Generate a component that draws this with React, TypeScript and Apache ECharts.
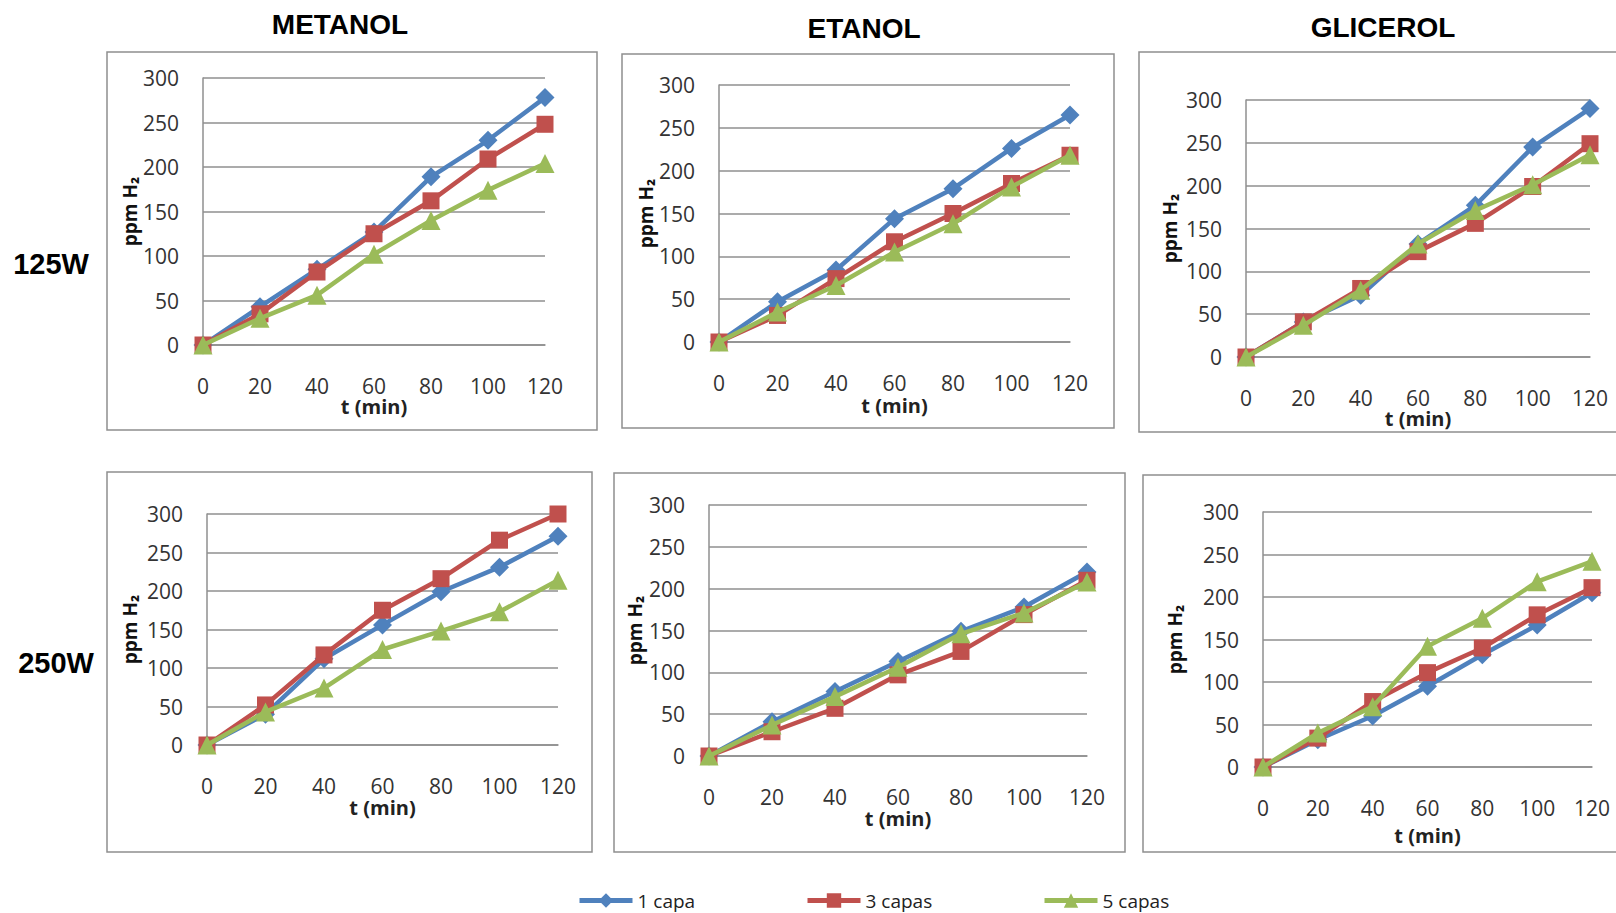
import React, { useEffect, useRef } from "react";
import * as echarts from "echarts";

const times = ["0", "20", "40", "60", "80", "100", "120"];
const seriesNames = ["1 capa", "3 capas", "5 capas"];
const colTitles = ["METANOL", "ETANOL", "GLICEROL"];
const rowTitles = ["125W", "250W"];
const yTicks = { min: 0, max: 300, interval: 50 };

// METANOL 125W
const m125_1 = [0, 43, 85, 127, 189, 230, 278];
const m125_3 = [0, 35, 82, 125, 162, 209, 248];
const m125_5 = [0, 30, 56, 102, 140, 174, 204];
// ETANOL 125W
const e125_1 = [0, 47, 84, 144, 179, 226, 265];
const e125_3 = [0, 31, 74, 117, 150, 185, 218];
const e125_5 = [0, 35, 66, 105, 138, 181, 218];
// GLICEROL 125W
const g125_1 = [0, 41, 72, 132, 177, 245, 290];
const g125_3 = [0, 41, 80, 123, 156, 199, 249];
const g125_5 = [0, 37, 78, 132, 171, 201, 236];
// METANOL 250W
const m250_1 = [0, 40, 112, 156, 199, 231, 271];
const m250_3 = [0, 52, 117, 175, 216, 266, 300];
const m250_5 = [0, 43, 74, 124, 148, 173, 214];
// ETANOL 250W
const e250_1 = [0, 41, 77, 113, 149, 178, 220];
const e250_3 = [0, 29, 57, 97, 125, 169, 210];
const e250_5 = [0, 37, 71, 106, 146, 171, 208];
// GLICEROL 250W
const g250_1 = [0, 32, 60, 95, 132, 167, 205];
const g250_3 = [0, 34, 77, 111, 140, 179, 211];
const g250_5 = [0, 40, 71, 142, 175, 218, 242];

const panelData = [
  [m125_1, m125_3, m125_5],
  [e125_1, e125_3, e125_5],
  [g125_1, g125_3, g125_5],
  [m250_1, m250_3, m250_5],
  [e250_1, e250_3, e250_5],
  [g250_1, g250_3, g250_5],
];

// layout (pixels)
const plots = [
  { l: 203, r: 545, t: 78, b: 345, yGap: 62, xGap: 48 },
  { l: 719, r: 1070, t: 85, b: 342, yGap: 58, xGap: 53 },
  { l: 1246, r: 1590, t: 100, b: 357, yGap: 67, xGap: 48 },
  { l: 207, r: 558, t: 514, b: 745, yGap: 68, xGap: 52 },
  { l: 709, r: 1087, t: 505, b: 756, yGap: 65, xGap: 52 },
  { l: 1263, r: 1592, t: 512, b: 767, yGap: 79, xGap: 58 },
];
const boxes = [
  [107, 52, 597, 430],
  [622, 54, 1114, 428],
  [1139, 52, 1640, 432],
  [107, 472, 592, 852],
  [614, 473, 1125, 852],
  [1143, 475, 1640, 852],
];
const colors = ["#4F81BD", "#C0504D", "#9BBB59"];
const symbols = ["diamond", "rect", "triangle"];
const symbolSizes = [19, 17, 19];
const W = 1616;
const H = 913;
const FONT = "'Open Sans', 'Liberation Sans', sans-serif";
const GRID_COLOR = "#8f8f8f";

export default function App() {
  const ref = useRef<HTMLDivElement>(null);
  useEffect(() => {
    if (!ref.current) return;
    const chart = echarts.init(ref.current, undefined, { renderer: "svg" });
    const grid = plots.map((p) => ({
      left: p.l,
      top: p.t,
      width: p.r - p.l,
      height: p.b - p.t,
      containLabel: false,
    }));
    const xAxis = plots.map((p, i) => ({
      type: "category",
      gridIndex: i,
      data: times,
      boundaryGap: false,
      name: "t (min)",
      nameLocation: "middle",
      nameGap: p.xGap,
      nameTextStyle: { fontFamily: FONT, fontSize: 20, fontWeight: "bold", color: "#222" },
      axisLine: { show: true, lineStyle: { color: GRID_COLOR, width: 1.5 } },
      axisTick: { show: false },
      axisLabel: { interval: 0, margin: 30, fontFamily: FONT, fontSize: 21, color: "#333" },
      splitLine: { show: false },
    }));
    const yAxis = plots.map((p, i) => ({
      type: "value",
      gridIndex: i,
      min: yTicks.min,
      max: yTicks.max,
      interval: yTicks.interval,
      name: "ppm H₂",
      nameLocation: "middle",
      nameGap: p.yGap,
      nameTextStyle: { fontFamily: FONT, fontSize: 19, fontWeight: "bold", color: "#111" },
      axisLine: { show: true, lineStyle: { color: GRID_COLOR, width: 1.5 } },
      axisTick: { show: false },
      axisLabel: { margin: 24, fontFamily: FONT, fontSize: 21, color: "#333" },
      splitLine: { show: true, lineStyle: { color: GRID_COLOR, width: 1.5 } },
    }));
    const series: any[] = [];
    panelData.forEach((arrs, pi) => {
      arrs.forEach((vals, si) => {
        series.push({
          type: "line",
          name: seriesNames[si],
          xAxisIndex: pi,
          yAxisIndex: pi,
          data: vals,
          symbol: symbols[si],
          symbolSize: symbolSizes[si],
          clip: false,
          itemStyle: { color: colors[si] },
          lineStyle: { color: colors[si], width: 4.5 },
          z: 2 + si,
        });
      });
    });
    const graphic: any[] = [];
    boxes.forEach((b) => {
      graphic.push({
        type: "rect",
        shape: { x: b[0], y: b[1], width: b[2] - b[0], height: b[3] - b[1] },
        style: { fill: "none", stroke: GRID_COLOR, lineWidth: 1.5 },
        silent: true,
        z: -1,
      });
    });
    const titlePos = [
      [340, 24],
      [864, 28],
      [1383, 27],
    ];
    colTitles.forEach((t, i) => {
      graphic.push({
        type: "text",
        x: titlePos[i][0],
        y: titlePos[i][1],
        style: {
          text: t,
          fontFamily: "'Liberation Sans', Arial, sans-serif",
          fontSize: 28,
          fontWeight: "bold",
          fill: "#000",
          align: "center",
          verticalAlign: "middle",
        },
      });
    });
    const rowPos = [
      [51, 264],
      [56, 663],
    ];
    rowTitles.forEach((t, i) => {
      graphic.push({
        type: "text",
        x: rowPos[i][0],
        y: rowPos[i][1],
        style: {
          text: t,
          fontFamily: "'Liberation Sans', Arial, sans-serif",
          fontSize: 29,
          fontWeight: "bold",
          fill: "#000",
          align: "center",
          verticalAlign: "middle",
        },
      });
    });
    const legendLefts = [577, 805, 1042];
    const legend = seriesNames.map((n, i) => ({
      data: [n],
      left: legendLefts[i],
      top: 891,
      itemWidth: 53,
      itemHeight: 18,
      itemGap: 0,
      padding: 0,
      lineStyle: { width: 5 },
      textStyle: { fontFamily: FONT, fontSize: 19, color: "#222" },
      selectedMode: false,
    }));
    chart.setOption({
      animation: false,
      backgroundColor: "#fff",
      grid,
      xAxis,
      yAxis,
      series,
      legend,
      graphic,
    });
    return () => chart.dispose();
  }, []);
  return (
    <div
      ref={ref}
      style={{ position: "fixed", left: 0, top: 0, width: W, height: H, background: "#fff" }}
    />
  );
}
